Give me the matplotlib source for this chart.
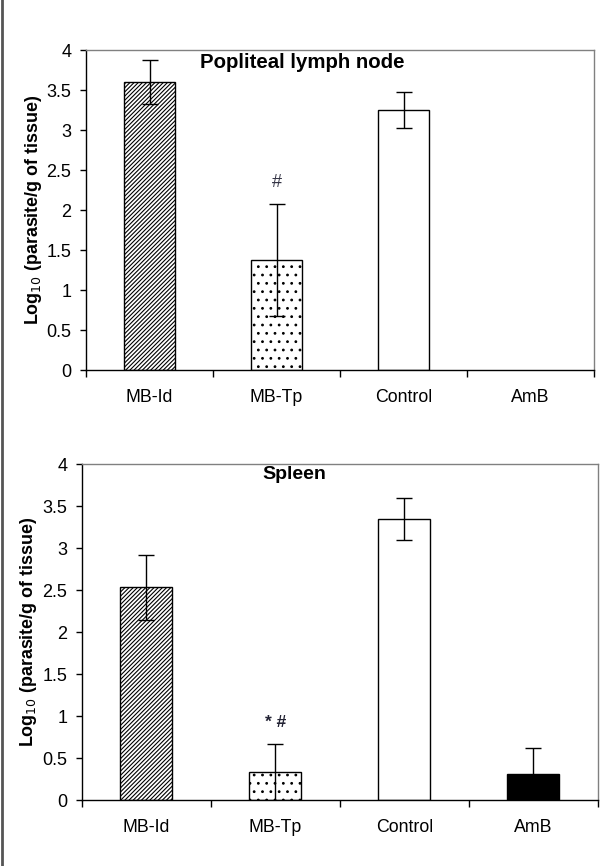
import matplotlib
matplotlib.use("Agg")
import matplotlib.pyplot as plt
from matplotlib.lines import Line2D

plt.rcParams['font.family'] = ['Liberation Sans', 'DejaVu Sans']
plt.rcParams['hatch.linewidth'] = 0.8

categories = ["MB-Id", "MB-Tp", "Control", "AmB"]
lymph_vals = [3.60, 1.38, 3.25, 0.0]
lymph_err = [0.27, 0.70, 0.22, 0.0]
spleen_vals = [2.53, 0.33, 3.35, 0.31]
spleen_err = [0.39, 0.34, 0.25, 0.31]
hatches = ["////////", "..", "", ""]
facecolors = ["white", "white", "white", "black"]
yticks = [0, 0.5, 1, 1.5, 2, 2.5, 3, 3.5, 4]
ytick_labels = ["0", "0.5", "1", "1.5", "2", "2.5", "3", "3.5", "4"]

fig = plt.figure(figsize=(6.10, 8.66), dpi=100)
ax1 = fig.add_axes([0.141, 0.5727, 0.833, 0.3695])
ax2 = fig.add_axes([0.134, 0.0762, 0.846, 0.3880])


def draw(ax, vals, errs, title, title_x, title_y, title_size):
    xs = [i + 0.5 for i in range(len(categories))]
    for i, (x, v, e) in enumerate(zip(xs, vals, errs)):
        if v <= 0:
            continue
        ax.bar(x, v, width=0.40, color=facecolors[i], edgecolor="black",
               linewidth=1.0, hatch=hatches[i], zorder=2)
        ax.errorbar(x, v, yerr=e, fmt="none", ecolor="black", elinewidth=1.0,
                    capsize=6, capthick=1.0, zorder=1 if i == 3 else 3)
    ax.set_xlim(0, 4)
    ax.set_ylim(0, 4)
    ax.set_yticks(yticks)
    ax.set_yticklabels(ytick_labels, fontsize=13)
    ax.set_xticks([0, 1, 2, 3, 4])
    ax.set_xticklabels([])
    ax.set_xticks(xs, minor=True)
    ax.set_xticklabels(categories, minor=True, fontsize=12.8)
    ax.tick_params(axis="x", which="major", direction="out", length=5, width=1)
    ax.tick_params(axis="x", which="minor", length=0, pad=14)
    ax.tick_params(axis="y", direction="out", length=4.5, width=1, pad=6)
    for s in ["top", "right"]:
        ax.spines[s].set_color("#808080")
        ax.spines[s].set_linewidth(1.0)
    for s in ["left", "bottom"]:
        ax.spines[s].set_color("black")
        ax.spines[s].set_linewidth(1.0)
    ax.text(title_x, title_y, title, fontsize=title_size, fontweight="bold",
            ha="center", va="center")
    ax.set_ylabel("Log$_{10}$ (parasite/g of tissue)", fontsize=12.9,
                  fontweight="bold", labelpad=2)


draw(ax1, lymph_vals, lymph_err, "Popliteal lymph node", 1.705, 3.85, 14.7)
draw(ax2, spleen_vals, spleen_err, "Spleen", 1.65, 3.87, 14)

ax1.text(1.5, 2.34, "#", fontsize=13, color="#333344", ha="center", va="center")
ax2.text(1.5, 0.92, "* #", fontsize=12.5, fontweight="bold", color="#222233",
         ha="center", va="center")

fig.add_artist(Line2D([0.004, 0.004], [0, 1], color="#555555", lw=2,
                      transform=fig.transFigure))

fig.savefig("out.png", dpi=100, facecolor="white")
